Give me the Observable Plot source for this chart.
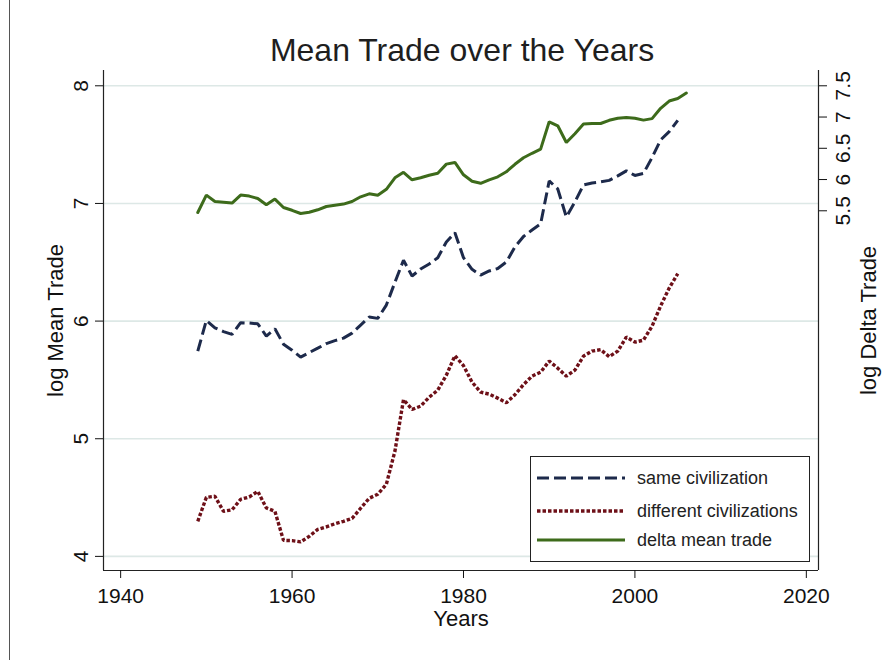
<!DOCTYPE html>
<html><head><meta charset="utf-8">
<script src="https://cdn.jsdelivr.net/npm/d3@7"></script>
<script src="https://cdn.jsdelivr.net/npm/@observablehq/plot@0.6"></script>
<style>
html,body{margin:0;padding:0;background:#fff;}
#wrap{position:relative;width:890px;height:660px;font-family:"Liberation Sans",Arial,sans-serif;overflow:hidden;background:#fff;}
#title{position:relative;height:62px;}
#title span{position:absolute;left:17px;width:890px;top:34px;text-align:center;font-size:32px;line-height:32px;color:#1e1e1e;white-space:nowrap;}
#frame{position:absolute;left:9px;top:0;width:1px;height:660px;background:#555;}
#chart svg{display:block;}
#legend{position:absolute;left:530px;top:456px;width:278px;height:104px;border:1.3px solid #222;background:#fff;}
#legend .row{position:absolute;left:0;height:24px;width:278px;}
#legend svg{position:absolute;left:6px;top:0;}
#legend .lab{position:absolute;left:106px;top:0;line-height:24px;font-size:18px;color:#222;white-space:nowrap;}
</style>
</head>
<body>
<div id="wrap">
  <div id="frame"></div>
  <div id="title"><span>Mean Trade over the Years</span></div>
  <div id="chart"></div>
  <div id="legend"></div>
</div>
<script>
// ---- data ----
const years = [1949,1950,1951,1952,1953,1954,1955,1956,1957,1958,
  1959,1960,1961,1962,1963,1964,1965,1966,1967,1968,
  1969,1970,1971,1972,1973,1974,1975,1976,1977,1978,
  1979,1980,1981,1982,1983,1984,1985,1986,1987,1988,
  1989,1990,1991,1992,1993,1994,1995,1996,1997,1998,
  1999,2000,2001,2002,2003,2004,2005];
const deltaYears = [1949,1950,1951,1952,1953,1954,1955,1956,1957,1958,
  1959,1960,1961,1962,1963,1964,1965,1966,1967,1968,
  1969,1970,1971,1972,1973,1974,1975,1976,1977,1978,
  1979,1980,1981,1982,1983,1984,1985,1986,1987,1988,
  1989,1990,1991,1992,1993,1994,1995,1996,1997,1998,
  1999,2000,2001,2002,2003,2004,2005,2006];
// log Mean Trade, same civilization
const sameCiv = [5.745,6.006,5.943,5.911,5.887,5.986,5.983,5.977,5.872,5.934,
  5.804,5.753,5.694,5.732,5.770,5.809,5.834,5.855,5.898,5.966,
  6.034,6.023,6.136,6.330,6.517,6.383,6.443,6.485,6.539,6.672,
  6.751,6.539,6.440,6.391,6.426,6.447,6.502,6.630,6.719,6.774,
  6.826,7.191,7.123,6.885,7.013,7.157,7.174,7.183,7.196,7.234,
  7.277,7.238,7.255,7.390,7.540,7.610,7.706];
// log Mean Trade, different civilizations
const diffCiv = [4.298,4.502,4.511,4.383,4.396,4.485,4.505,4.553,4.411,4.383,
  4.136,4.134,4.123,4.170,4.230,4.251,4.277,4.298,4.323,4.409,
  4.494,4.528,4.613,4.894,5.332,5.249,5.277,5.353,5.413,5.540,
  5.706,5.621,5.481,5.396,5.379,5.345,5.306,5.374,5.460,5.532,
  5.566,5.660,5.600,5.532,5.583,5.702,5.745,5.757,5.698,5.745,
  5.864,5.821,5.838,5.957,6.128,6.281,6.403];
// log Delta Trade (right axis)
const deltaTrade = [5.473,5.751,5.649,5.636,5.623,5.751,5.735,5.697,5.596,5.687,
  5.553,5.508,5.457,5.476,5.516,5.569,5.588,5.607,5.649,5.724,
  5.772,5.748,5.844,6.028,6.116,5.996,6.028,6.068,6.100,6.247,
  6.273,6.076,5.972,5.940,5.996,6.044,6.124,6.244,6.348,6.420,
  6.487,6.924,6.860,6.593,6.732,6.887,6.895,6.897,6.948,6.980,
  6.993,6.980,6.951,6.975,7.140,7.256,7.296,7.383];

const xTicks = [1940,1960,1980,2000,2020];
const leftTicks = [4,5,6,7,8];
const rightTicks = [5.5,6,6.5,7,7.5];
const seriesNames = ["same civilization","different civilizations","delta mean trade"];
const colors = ["#1d2a4b","#6e1018","#3d6b1b"];
const dashes = ["12,5","3.5,2",null];
const widths = [3,3.4,3];

// right axis (log Delta Trade) expressed on left scale
const k = 62.5/117.65;
const toLeft = v => 8 - (7.5 - v) * k;
const fromLeft = d => (d - 8) / k + 7.5;

const sameData = years.map((y,i)=>({year:y, value:sameCiv[i]}));
const diffData = years.map((y,i)=>({year:y, value:diffCiv[i]}));
const deltaData = deltaYears.map((y,i)=>({year:y, value:deltaTrade[i]}));

const xDomain = [1938, 2021.42];
const yDomain = [3.88, 8.13];
const font = '"Liberation Sans", Arial, sans-serif';

const plot = Plot.plot({
  width: 890, height: 598,
  marginTop: 8, marginBottom: 90, marginLeft: 103, marginRight: 72,
  style: {fontFamily: font, color: "#111", background: "white", overflow: "visible"},
  x: {domain: xDomain},
  y: {domain: yDomain},
  marks: [
    Plot.gridY(leftTicks, {stroke: "#dde8e6", strokeOpacity: 1, strokeWidth: 1.6}),
    Plot.lineY(sameData, {x: "year", y: "value", stroke: colors[0], strokeWidth: widths[0], strokeDasharray: dashes[0], strokeLinecap: "butt", strokeLinejoin: "miter"}),
    Plot.lineY(diffData, {x: "year", y: "value", stroke: colors[1], strokeWidth: widths[1], strokeDasharray: dashes[1], strokeLinecap: "butt", strokeLinejoin: "miter"}),
    Plot.lineY(deltaData, {x: "year", y: d => toLeft(d.value), stroke: colors[2], strokeWidth: widths[2], strokeLinejoin: "miter"}),
    Plot.ruleX([xDomain[0], xDomain[1]], {stroke: "#222", strokeWidth: 1.2}),
    Plot.ruleY([yDomain[0]], {stroke: "#222", strokeWidth: 1.2}),
    Plot.axisY(leftTicks, {anchor: "left", tickSize: 8, tickPadding: 8, tickRotate: -90, fontSize: 21, label: null,
      tickFormat: d => String(d)}),
    Plot.axisY(rightTicks.map(toLeft), {anchor: "right", tickSize: 8, tickPadding: 23, tickRotate: -90, fontSize: 21, label: null,
      tickFormat: d => String(Math.round(fromLeft(d) * 10) / 10)}),
    Plot.axisX(xTicks, {tickSize: 8, tickPadding: 10, fontSize: 21, label: null, tickFormat: d => String(d)}),
    Plot.text(["log Mean Trade"], {frameAnchor: "left", textAnchor: "middle", lineAnchor: "middle", rotate: -90, dx: -48, fontSize: 22, fill: "#111"}),
    Plot.text(["log Delta Trade"], {frameAnchor: "right", textAnchor: "middle", lineAnchor: "middle", rotate: -90, dx: 50, fontSize: 22, fill: "#111"}),
    Plot.text(["Years"], {frameAnchor: "bottom", textAnchor: "middle", lineAnchor: "middle", dy: 48, fontSize: 22, fill: "#111"})
  ]
});
document.getElementById("chart").appendChild(plot);

// legend
const leg = document.getElementById("legend");
const rowTops = [9, 42, 71];
seriesNames.forEach((name, i) => {
  const row = document.createElement("div");
  row.className = "row";
  row.style.top = rowTops[i] + "px";
  const ns = "http://www.w3.org/2000/svg";
  const svg = document.createElementNS(ns, "svg");
  svg.setAttribute("width", 90); svg.setAttribute("height", 24);
  const ln = document.createElementNS(ns, "line");
  ln.setAttribute("x1", 0); ln.setAttribute("x2", 88);
  ln.setAttribute("y1", 12); ln.setAttribute("y2", 12);
  ln.setAttribute("stroke", colors[i]);
  ln.setAttribute("stroke-width", widths[i]);
  if (dashes[i]) ln.setAttribute("stroke-dasharray", dashes[i]);
  svg.appendChild(ln);
  row.appendChild(svg);
  const lab = document.createElement("div");
  lab.className = "lab";
  lab.textContent = name;
  row.appendChild(lab);
  leg.appendChild(row);
});
</script>
</body></html>
